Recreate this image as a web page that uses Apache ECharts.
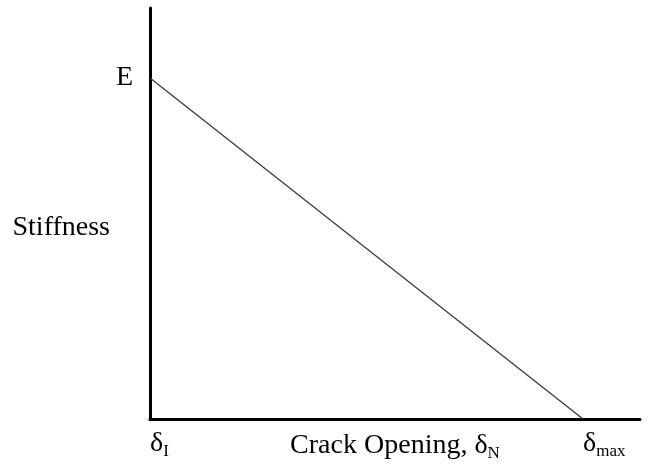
<!DOCTYPE html>
<html>
<head>
<meta charset="utf-8">
<script src="https://cdn.jsdelivr.net/npm/echarts@6/dist/echarts.min.js"></script>
<style>
  html, body { margin: 0; padding: 0; background: #fff; }
  #main { width: 655px; height: 465px; }
</style>
</head>
<body>
<div id="main"></div>
<script>
// crack opening (normalised so delta_max = 1) and stiffness (normalised so E = 1)
var crackOpening = [0, 1];
var stiffness = [1, 0];
var xTicks = [0, 1];          // delta_I, delta_max
var xTickLabels = ['{d|δ}{s|I}', '{d|δ}{s|max}'];
var yTicks = [1];
var yTickLabels = ['E'];

var serif = "'Liberation Serif', 'Times New Roman', serif";
var rich = {
  d: { fontFamily: serif, fontSize: 28, color: '#000' },
  s: { fontFamily: serif, fontSize: 17, color: '#000', verticalAlign: 'bottom', padding: [16, 0, 0, 0] }
};

var points = crackOpening.map(function (x, i) { return [x, stiffness[i]]; });

var myChart = echarts.init(document.getElementById('main'));
myChart.setOption({
  animation: false,
  backgroundColor: '#fff',
  grid: { left: 150, right: 15, top: 8, bottom: 46, outerBoundsMode: 'none', containLabel: false },
  xAxis: {
    type: 'value',
    min: 0,
    max: 1.1316,
    splitLine: { show: false },
    axisTick: { show: false },
    axisLine: { lineStyle: { color: '#000', width: 3 } },
    axisLabel: {
      customValues: xTicks,
      align: 'left',
      margin: 8,
      formatter: function (v) { return xTickLabels[xTicks.indexOf(v)]; },
      rich: rich
    },
    name: 'Crack Opening, {d|δ}{s|N}',
    nameLocation: 'middle',
    nameGap: 10,
    nameMoveOverlap: false,
    nameTextStyle: {
      fontFamily: serif, fontSize: 28, color: '#000', verticalAlign: 'top',
      rich: rich
    }
  },
  yAxis: {
    type: 'value',
    min: 0,
    max: 1.205,
    splitLine: { show: false },
    axisTick: { show: false },
    axisLine: { lineStyle: { color: '#000', width: 3 } },
    axisLabel: {
      customValues: yTicks,
      margin: 17,
      fontFamily: serif,
      fontSize: 28,
      color: '#000',
      padding: [5, 0, 0, 0],
      formatter: function (v) { return yTickLabels[yTicks.indexOf(v)]; }
    },
    name: 'Stiffness',
    nameLocation: 'middle',
    nameRotate: 0,
    nameGap: 38,
    nameTextStyle: {
      fontFamily: serif, fontSize: 28, color: '#000',
      verticalAlign: 'top'
    }
  },
  series: [{
    type: 'line',
    data: points,
    symbol: 'none',
    lineStyle: { color: '#3a3a3a', width: 1.3 }
  }]
});
</script>
</body>
</html>
